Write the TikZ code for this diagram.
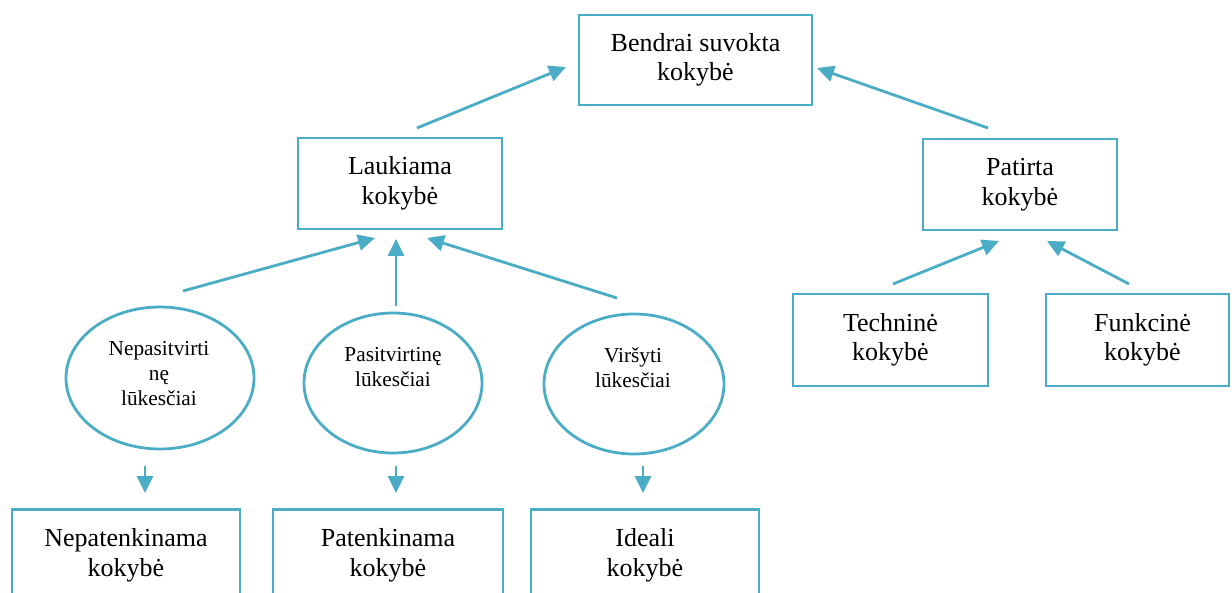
\documentclass[tikz,border=0pt]{standalone}
\usepackage{fontspec}
\setmainfont{Liberation Serif}
\usetikzlibrary{arrows.meta,shapes.geometric}
\definecolor{acc}{HTML}{4BACC6}
\begin{document}
\begin{tikzpicture}[x=1pt,y=-1pt,
  box/.style={draw=acc, line width=2.8pt, align=center, inner sep=0pt,
    font=\fontsize{26}{29.5}\selectfont},
  oval/.style={draw=acc, line width=2.8pt, ellipse, inner sep=0pt},
  otext/.style={align=center, inner sep=0pt, anchor=north,
    font=\fontsize{21.3}{25}\selectfont},
  arr/.style={draw=acc, line width=2.8pt, -{Triangle[length=17pt,width=16pt]}},
]
\useasboundingbox (0,0) rectangle (1232,593);
\clip (0,0) rectangle (1232,593);

% boxes
\node[box, minimum width=233, minimum height=90] (top) at (695.5,60) {Bendrai suvokta\\kokybė};
\node[box, minimum width=204, minimum height=91] (lauk) at (400,183.5) {Laukiama\\kokybė};
\node[box, minimum width=194, minimum height=91] (pat) at (1020,184.5) {Patirta\\kokybė};
\node[box, minimum width=195, minimum height=92] (tech) at (890.5,340) {Techninė\\kokybė};
\node[box, minimum width=183, minimum height=92] (funk) at (1137.5,340) {\hspace*{10pt}Funkcinė\\\hspace*{10pt}kokybė};
\node[box, anchor=north, minimum width=228, minimum height=92] (nep) at (126,508) {Nepatenkinama\\kokybė};
\node[box, anchor=north, minimum width=230, minimum height=92] (pten) at (388,508) {Patenkinama\\kokybė};
\node[box, anchor=north, minimum width=228, minimum height=92] (ideal) at (645,508) {Ideali\\kokybė};

% ellipses
\node[oval, minimum width=188, minimum height=142] (e1) at (160,378) {};
\node[oval, minimum width=178, minimum height=140] (e2) at (393,383) {};
\node[oval, minimum width=180, minimum height=140] (e3) at (634,384) {};
\node[otext] (e1t) at (159,341) {Nepasitvirti\\nę\\lūkesčiai};
\node[otext] (e2t) at (393,347) {Pasitvirtinę\\lūkesčiai};
\node[otext] (e3t) at (633,347) {Viršyti\\lūkesčiai};

% connector ends
\coordinate (a1s) at (417,128);  \coordinate (a1e) at (566,67);
\coordinate (a2s) at (988,128);  \coordinate (a2e) at (817,68);
\coordinate (a3s) at (183,291);  \coordinate (a3e) at (375,238);
\coordinate (a4s) at (396,306);  \coordinate (a4e) at (396,239);
\coordinate (a5s) at (617,298);  \coordinate (a5e) at (427,238);
\coordinate (a6s) at (893,284);  \coordinate (a6e) at (999,241);
\coordinate (a7s) at (1129,284); \coordinate (a7e) at (1047,241);
\coordinate (a8s) at (145,466);  \coordinate (a8e) at (145,493);
\coordinate (a9s) at (396,466);  \coordinate (a9e) at (396,493);
\coordinate (a10s) at (643,466); \coordinate (a10e) at (643,493);

\draw[arr] (a1s) -- (a1e);
\draw[arr] (a2s) -- (a2e);
\draw[arr] (a3s) -- (a3e);
\draw[arr] (a4s) -- (a4e);
\draw[arr] (a5s) -- (a5e);
\draw[arr] (a6s) -- (a6e);
\draw[arr] (a7s) -- (a7e);
\draw[arr] (a8s) -- (a8e);
\draw[arr] (a9s) -- (a9e);
\draw[arr] (a10s) -- (a10e);
\end{tikzpicture}
\end{document}
